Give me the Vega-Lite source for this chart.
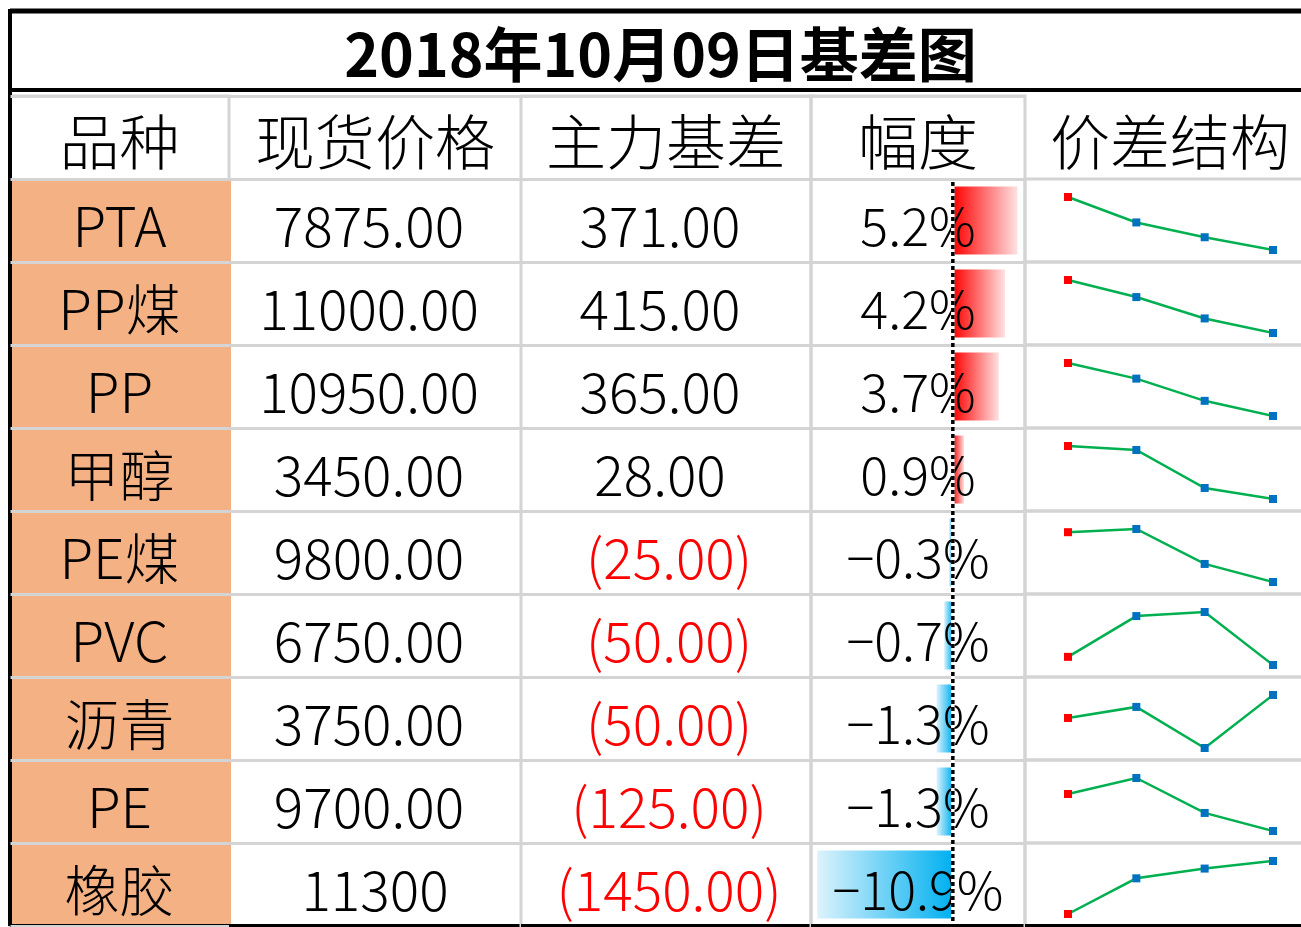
{
  "$schema": "https://vega.github.io/schema/vega-lite/v6.json",
  "padding": {"left": 6, "top": 5, "right": 0, "bottom": 0},
  "background": "white",
  "bounds": "flush",
  "spacing": 6,
  "config": {
    "view": {"stroke": "#D4D4D4", "strokeWidth": 3},
    "text": {"font": "Noto Sans CJK SC", "fontWeight": 300, "color": "black"},
    "concat": {"spacing": 0}
  },
  "datasets": {
    "rows": [
      {"品种": "PTA", "现货价格": 7875, "主力基差": 371, "幅度": 0.052},
      {"品种": "PP煤", "现货价格": 11000, "主力基差": 415, "幅度": 0.042},
      {"品种": "PP", "现货价格": 10950, "主力基差": 365, "幅度": 0.037},
      {"品种": "甲醇", "现货价格": 3450, "主力基差": 28, "幅度": 0.009},
      {"品种": "PE煤", "现货价格": 9800, "主力基差": -25, "幅度": -0.003},
      {"品种": "PVC", "现货价格": 6750, "主力基差": -50, "幅度": -0.007},
      {"品种": "沥青", "现货价格": 3750, "主力基差": -50, "幅度": -0.013},
      {"品种": "PE", "现货价格": 9700, "主力基差": -125, "幅度": -0.013},
      {"品种": "橡胶", "现货价格": 11300, "主力基差": -1450, "幅度": -0.109}
    ],
    "spark": [
      {"品种": "PTA", "合约": "现货", "价格": 7875}, {"品种": "PTA", "合约": "合约1", "价格": 7504}, {"品种": "PTA", "合约": "合约2", "价格": 7288}, {"品种": "PTA", "合约": "合约3", "价格": 7102},
      {"品种": "PP煤", "合约": "现货", "价格": 11000}, {"品种": "PP煤", "合约": "合约1", "价格": 10585}, {"品种": "PP煤", "合约": "合约2", "价格": 10066}, {"品种": "PP煤", "合约": "合约3", "价格": 9712},
      {"品种": "PP", "合约": "现货", "价格": 10950}, {"品种": "PP", "合约": "合约1", "价格": 10585}, {"品种": "PP", "合约": "合约2", "价格": 10066}, {"品种": "PP", "合约": "合约3", "价格": 9712},
      {"品种": "甲醇", "合约": "现货", "价格": 3450}, {"品种": "甲醇", "合约": "合约1", "价格": 3422}, {"品种": "甲醇", "合约": "合约2", "价格": 3157}, {"品种": "甲醇", "合约": "合约3", "价格": 3080},
      {"品种": "PE煤", "合约": "现货", "价格": 9800}, {"品种": "PE煤", "合约": "合约1", "价格": 9825}, {"品种": "PE煤", "合约": "合约2", "价格": 9552}, {"品种": "PE煤", "合约": "合约3", "价格": 9411},
      {"品种": "PVC", "合约": "现货", "价格": 6750}, {"品种": "PVC", "合约": "合约1", "价格": 6800}, {"品种": "PVC", "合约": "合约2", "价格": 6805}, {"品种": "PVC", "合约": "合约3", "价格": 6740},
      {"品种": "沥青", "合约": "现货", "价格": 3750}, {"品种": "沥青", "合约": "合约1", "价格": 3800}, {"品种": "沥青", "合约": "合约2", "价格": 3614}, {"品种": "沥青", "合约": "合约3", "价格": 3854},
      {"品种": "PE", "合约": "现货", "价格": 9700}, {"品种": "PE", "合约": "合约1", "价格": 9825}, {"品种": "PE", "合约": "合约2", "价格": 9552}, {"品种": "PE", "合约": "合约3", "价格": 9411},
      {"品种": "橡胶", "合约": "现货", "价格": 11300}, {"品种": "橡胶", "合约": "合约1", "价格": 12750}, {"品种": "橡胶", "合约": "合约2", "价格": 13146}, {"品种": "橡胶", "合约": "合约3", "价格": 13454}
    ]
  },
  "vconcat": [
    {
      "width": 1305,
      "height": 79,
      "view": {"stroke": null},
      "layer": [
        {"data": {"values": [{"标题": "2018年10月09日基差图"}]}, "mark": {"type": "text", "fontSize": 59, "fontWeight": "bold", "baseline": "middle", "dy": 8, "dx": -2}, "encoding": {"text": {"field": "标题"}}},
        {"data": {"values": [{}]}, "mark": {"type": "rule", "color": "black", "strokeWidth": 5}, "encoding": {"x": {"value": 0}, "x2": {"value": 1305}, "y": {"value": 0}}},
        {"data": {"values": [{}]}, "mark": {"type": "rule", "color": "black", "strokeWidth": 4}, "encoding": {"x": {"value": 0}, "x2": {"value": 1305}, "y": {"value": 79}}}
      ]
    },
    {
      "spacing": 0,
      "bounds": "flush",
      "hconcat": [
        {
          "width": 219,
          "height": 830,
          "layer": [
            {"data": {"name": "rows"}, "mark": {"type": "rect", "color": "#F4B183"},
             "encoding": {"y": {"field": "品种", "type": "nominal", "sort": null, "scale": {"domain": ["品种", "PTA", "PP煤", "PP", "甲醇", "PE煤", "PVC", "沥青", "PE", "橡胶"], "paddingInner": 0, "paddingOuter": 0}, "axis": {"grid": true, "gridColor": "#D4D4D4", "gridWidth": 3, "tickBand": "extent", "labels": false, "ticks": false, "domain": false, "title": null}},
                          "x": {"value": 0}, "x2": {"value": 221}}},
            {"data": {"name": "rows"}, "mark": {"type": "text", "fontSize": 55, "baseline": "middle", "dy": 9},
             "encoding": {"y": {"field": "品种", "type": "nominal", "sort": null}, "text": {"field": "品种"}}},
            {"data": {"values": [{"品种": "品种", "标题": "品种"}]}, "mark": {"type": "text", "fontSize": 60, "baseline": "middle", "dy": 9},
             "encoding": {"y": {"field": "品种", "type": "nominal", "sort": null}, "text": {"field": "标题"}}},
            {"data": {"values": [{}]}, "mark": {"type": "rule", "color": "black", "strokeWidth": 4}, "encoding": {"x": {"value": 0}, "y": {"value": -87}, "y2": {"value": 830}}},
            {"data": {"values": [{}]}, "mark": {"type": "rule", "color": "black", "strokeWidth": 4}, "encoding": {"x": {"value": 0}, "x2": {"value": 219}, "y": {"value": 830}}}
          ]
        },
        {
          "width": 292,
          "height": 830,
          "view": {"stroke": null},
          "layer": [
            {"data": {"values": [{"品种": "品种", "标题": "现货价格"}]}, "mark": {"type": "text", "fontSize": 60, "baseline": "middle", "dy": 9},
             "encoding": {"y": {"field": "品种", "type": "nominal", "sort": null, "scale": {"domain": ["品种", "PTA", "PP煤", "PP", "甲醇", "PE煤", "PVC", "沥青", "PE", "橡胶"], "paddingInner": 0, "paddingOuter": 0}, "axis": {"grid": true, "gridColor": "#D4D4D4", "gridWidth": 3, "tickBand": "extent", "labels": false, "ticks": false, "domain": false, "title": null}},
                          "text": {"field": "标题"}}},
            {"data": {"name": "rows"}, "transform": [{"filter": "datum['品种'] !== '橡胶'"}], "mark": {"type": "text", "fontSize": 55, "baseline": "middle", "dy": 9, "dx": -6},
             "encoding": {"y": {"field": "品种", "type": "nominal", "sort": null}, "text": {"field": "现货价格", "type": "quantitative", "format": ".2f"}}},
            {"data": {"name": "rows"}, "transform": [{"filter": "datum['品种'] === '橡胶'"}], "mark": {"type": "text", "fontSize": 55, "baseline": "middle", "dy": 9},
             "encoding": {"y": {"field": "品种", "type": "nominal", "sort": null}, "text": {"field": "现货价格", "type": "quantitative", "format": "d"}}},
            {"data": {"values": [{}]}, "mark": {"type": "rule", "color": "black", "strokeWidth": 4}, "encoding": {"x": {"value": 0}, "x2": {"value": 292}, "y": {"value": 830}}}
          ]
        },
        {
          "width": 290,
          "height": 830,
          "layer": [
            {"data": {"values": [{"品种": "品种", "标题": "主力基差"}]}, "mark": {"type": "text", "fontSize": 60, "baseline": "middle", "dy": 9},
             "encoding": {"y": {"field": "品种", "type": "nominal", "sort": null, "scale": {"domain": ["品种", "PTA", "PP煤", "PP", "甲醇", "PE煤", "PVC", "沥青", "PE", "橡胶"], "paddingInner": 0, "paddingOuter": 0}, "axis": {"grid": true, "gridColor": "#D4D4D4", "gridWidth": 3, "tickBand": "extent", "labels": false, "ticks": false, "domain": false, "title": null}},
                          "text": {"field": "标题"}}},
            {"data": {"name": "rows"}, "transform": [{"filter": "datum['主力基差'] >= 0"}], "mark": {"type": "text", "fontSize": 55, "baseline": "middle", "dy": 9, "dx": -6},
             "encoding": {"y": {"field": "品种", "type": "nominal", "sort": null}, "text": {"field": "主力基差", "type": "quantitative", "format": "(.2f"}}},
            {"data": {"name": "rows"}, "transform": [{"filter": "datum['主力基差'] < 0"}], "mark": {"type": "text", "fontSize": 55, "baseline": "middle", "dy": 9, "dx": 3, "color": "#FF0000"},
             "encoding": {"y": {"field": "品种", "type": "nominal", "sort": null}, "text": {"field": "主力基差", "type": "quantitative", "format": "(.2f"}}},
            {"data": {"values": [{}]}, "mark": {"type": "rule", "color": "black", "strokeWidth": 4}, "encoding": {"x": {"value": 0}, "x2": {"value": 290}, "y": {"value": 830}}}
          ]
        },
        {
          "width": 214,
          "height": 830,
          "layer": [
            {"data": {"values": [{"品种": "品种", "标题": "幅度"}]}, "mark": {"type": "text", "fontSize": 60, "baseline": "middle", "dy": 9},
             "encoding": {"y": {"field": "品种", "type": "nominal", "sort": null, "scale": {"domain": ["品种", "PTA", "PP煤", "PP", "甲醇", "PE煤", "PVC", "沥青", "PE", "橡胶"], "paddingInner": 0, "paddingOuter": 0}, "axis": {"grid": true, "gridColor": "#D4D4D4", "gridWidth": 3, "tickBand": "extent", "labels": false, "ticks": false, "domain": false, "title": null}},
                          "text": {"field": "标题"}}},
            {"data": {"name": "rows"}, "transform": [{"filter": "datum['幅度'] > 0"}],
             "mark": {"type": "bar", "size": 68, "fill": {"gradient": "linear", "x1": 0, "y1": 0, "x2": 1, "y2": 0, "stops": [{"offset": 0, "color": "#FF0000"}, {"offset": 1, "color": "#FFE2E2"}]}},
             "encoding": {"y": {"field": "品种", "type": "nominal", "sort": null},
                          "x": {"field": "幅度", "type": "quantitative", "scale": {"domain": [-0.114, 0.058], "nice": false, "zero": false}, "axis": null},
                          "x2": {"datum": 0}}},
            {"data": {"name": "rows"}, "transform": [{"filter": "datum['幅度'] < 0"}],
             "mark": {"type": "bar", "size": 68, "fill": {"gradient": "linear", "x1": 0, "y1": 0, "x2": 1, "y2": 0, "stops": [{"offset": 0, "color": "#DDF3FC"}, {"offset": 1, "color": "#00B0F0"}]}},
             "encoding": {"y": {"field": "品种", "type": "nominal", "sort": null},
                          "x": {"field": "幅度", "type": "quantitative"},
                          "x2": {"datum": 0}}},
            {"data": {"name": "rows"}, "mark": {"type": "text", "fontSize": 52, "baseline": "middle", "dy": 9},
             "encoding": {"y": {"field": "品种", "type": "nominal", "sort": null}, "text": {"field": "幅度", "type": "quantitative", "format": ".1%"}}},
            {"data": {"values": [{}]}, "mark": {"type": "rule", "color": "white", "strokeWidth": 3.5}, "encoding": {"x": {"datum": 0, "type": "quantitative"}, "y": {"value": 86}, "y2": {"value": 830}}},
            {"data": {"values": [{}]}, "mark": {"type": "rule", "color": "black", "strokeWidth": 3.5, "strokeDash": [4, 3]}, "encoding": {"x": {"datum": 0, "type": "quantitative"}, "y": {"value": 86}, "y2": {"value": 830}}},
            {"data": {"values": [{}]}, "mark": {"type": "rule", "color": "black", "strokeWidth": 4}, "encoding": {"x": {"value": 0}, "x2": {"value": 214}, "y": {"value": 830}}}
          ]
        },
        {
          "spacing": 0,
          "bounds": "flush",
          "vconcat": [
            {
              "width": 290,
              "height": 83,
              "data": {"values": [{"标题": "价差结构"}]},
              "mark": {"type": "text", "fontSize": 60, "baseline": "middle", "dy": 9},
              "encoding": {"text": {"field": "标题"}}
            },
            {
              "data": {"name": "spark"},
              "facet": {"row": {"field": "品种", "type": "nominal", "sort": ["PTA", "PP煤", "PP", "甲醇", "PE煤", "PVC", "沥青", "PE", "橡胶"], "header": {"labels": false, "title": null, "labelPadding": 0, "titlePadding": 0}}},
              "spacing": {"row": 0},
              "bounds": "flush",
              "resolve": {"scale": {"y": "independent"}},
              "spec": {
                "width": 290,
                "height": 83,
                "layer": [
                  {"mark": {"type": "line", "color": "#00B050", "strokeWidth": 2.5},
                   "encoding": {"x": {"field": "合约", "type": "ordinal", "sort": null, "scale": {"type": "point", "domain": ["现货", "合约1", "合约2", "合约3"], "range": [43, 248], "padding": 0}, "axis": null},
                                "y": {"field": "价格", "type": "quantitative", "scale": {"zero": false, "nice": false, "range": [71, 18]}, "axis": null},
                                "order": {"value": null}}},
                  {"mark": {"type": "point", "shape": "square", "filled": true, "size": 64, "opacity": 1},
                   "encoding": {"x": {"field": "合约", "type": "ordinal", "sort": null},
                                "y": {"field": "价格", "type": "quantitative"},
                                "color": {"field": "合约", "type": "nominal", "sort": null, "scale": {"domain": ["现货", "合约1", "合约2", "合约3"], "range": ["#FF0000", "#0070C0", "#0070C0", "#0070C0"]}, "legend": null}}},
                  {"transform": [{"filter": "datum['品种'] === '橡胶' && datum['合约'] === '现货'"}], "mark": {"type": "rule", "color": "black", "strokeWidth": 4},
                   "encoding": {"x": {"value": 0}, "x2": {"value": 290}, "y": {"value": 83}}}
                ]
              }
            }
          ]
        }
      ]
    }
  ]
}
